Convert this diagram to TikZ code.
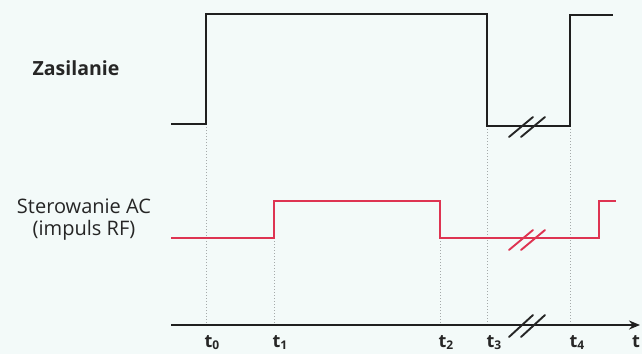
\documentclass[tikz,border=0pt]{standalone}
\usepackage{fontspec}
\setmainfont{Open Sans}
\usetikzlibrary{arrows.meta}
\definecolor{bgc}{RGB}{243,250,249}
\definecolor{sig}{RGB}{222,52,82}
\definecolor{dotc}{RGB}{165,170,170}
\newcommand{\tsub}[1]{\raisebox{-2pt}{\fontsize{12}{12}\selectfont #1}}
\begin{document}
\begin{tikzpicture}[x=1pt,y=-1pt,
  power/.style={line width=2.6pt,black!88},
  ctrl/.style={line width=1.9pt,sig},
  guide/.style={dotc,line width=0.8pt,dash pattern=on 1.2pt off 1.8pt},
  brk/.style={line width=1.9pt,line cap=round},
  lbl/.style={font=\fontsize{20}{22}\selectfont,text=black!85,inner sep=0pt},
  tlbl/.style={font=\fontsize{18}{18}\selectfont\bfseries,text=black!85,inner sep=0pt,anchor=base}]
\fill[bgc] (0,0) rectangle (642,354);
\useasboundingbox (0,0) rectangle (642,354);
% labels
\node[lbl,font=\fontsize{19.5}{22}\selectfont\bfseries,anchor=base] (zas) at (76,75) {Zasilanie};
\node[lbl,anchor=base,align=center] (ster) at (84,235) {Sterowanie AC\\[0pt](impuls RF)};
% coordinates
\coordinate (p0) at (171,124);
\coordinate (p1) at (206,124);
\coordinate (p2) at (206,14);
\coordinate (p3) at (487,14);
\coordinate (p4) at (487,126);
\coordinate (p5) at (570,126);
\coordinate (p6) at (570,15);
\coordinate (p7) at (613,15);
\coordinate (r0) at (171,238);
\coordinate (r1) at (274,238);
\coordinate (r2) at (274,201);
\coordinate (r3) at (440,201);
\coordinate (r4) at (440,238);
\coordinate (r5) at (599,238);
\coordinate (r6) at (599,201);
\coordinate (r7) at (616,201);
\coordinate (a0) at (171,325);
\coordinate (a1) at (640,325);
% guides
\draw[guide] (p1) -- (206,325);
\draw[guide] (r1) -- (274,325);
\draw[guide] (r4) -- (440,325);
\draw[guide] (p4) -- (487,325);
\draw[guide] (p5) -- (570,325);
% signals
\draw[power] (p0) -- (p1) -- (p2) -- (p3) -- (p4) -- (p5) -- (p6) -- (p7);
\draw[ctrl] (r0) -- (r1) -- (r2) -- (r3) -- (r4) -- (r5) -- (r6) -- (r7);
\draw[line width=2.6pt,black!88,-{Stealth[length=11pt,width=9pt]}] (a0) -- (a1);
% break marks
\draw[brk,black!85] (509,137) -- (533,117) (521,137) -- (545,117);
\draw[brk,sig] (509,250) -- (533,230) (521,250) -- (545,230);
\draw[brk,black!85] (509,337) -- (533,315) (521,337) -- (545,315);
% time labels
\node[tlbl] (t0) at (212,347) {t\tsub{0}};
\node[tlbl] (t1) at (280,347) {t\tsub{1}};
\node[tlbl] (t2) at (446,347) {t\tsub{2}};
\node[tlbl] (t3) at (494,347) {t\tsub{3}};
\node[tlbl] (t4) at (577,347) {t\tsub{4}};
\node[tlbl,anchor=base west] (tt) at (632,347) {t};
\end{tikzpicture}
\end{document}
